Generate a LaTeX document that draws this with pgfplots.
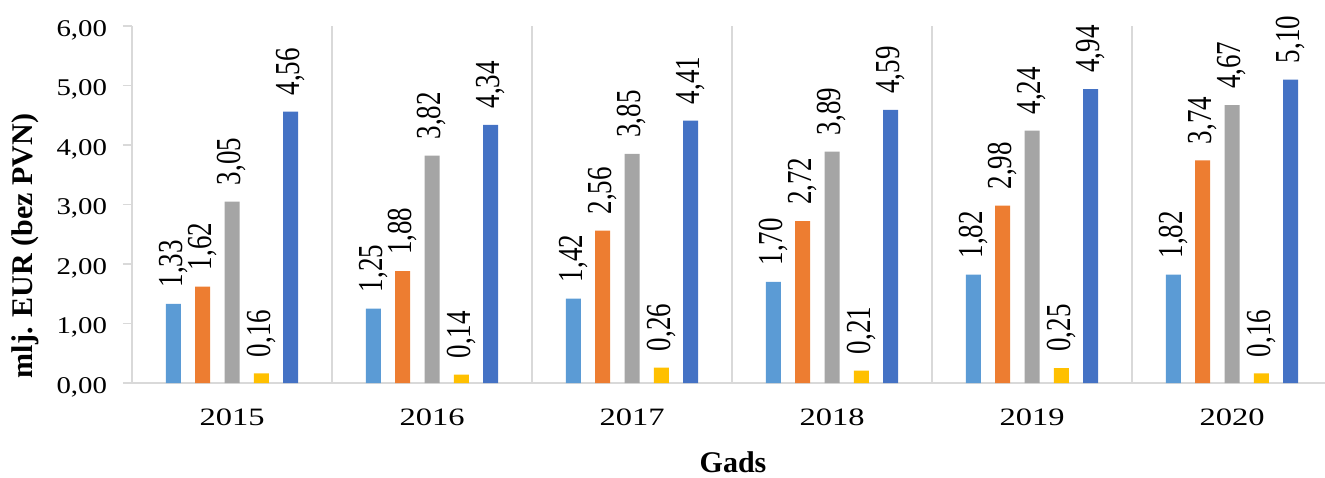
\documentclass[border=0pt]{standalone}
\usepackage{pgfplots}
\pgfplotsset{compat=1.18}
\usepackage{fontspec}
\setmainfont{Liberation Serif}
\usepackage{graphicx}
\definecolor{cA}{HTML}{5B9BD5}
\definecolor{cB}{HTML}{ED7D31}
\definecolor{cC}{HTML}{A5A5A5}
\definecolor{cD}{HTML}{FFC000}
\definecolor{cE}{HTML}{4472C4}
\definecolor{gridgray}{HTML}{D9D9D9}
\begin{document}
\begin{tikzpicture}
\path[use as bounding box] (0,0) rectangle (662.5pt,-238.5pt);
\clip (0,0) rectangle (662.5pt,-238.5pt);
\begin{axis}[
  at={(66pt,-191.5pt)}, anchor=south west,
  width=600pt, height=178.5pt, scale only axis,
  xmin=-0.5, xmax=5.5, ymin=0, ymax=6,
  ybar=7.15pt, bar width=7.5pt,
  axis lines=left,
  axis line style={-, draw=gridgray, line width=0.75pt},
  xtick={0,...,5},
  xticklabels={\scalebox{1.3}[1]{2015},\scalebox{1.3}[1]{2016},\scalebox{1.3}[1]{2017},\scalebox{1.3}[1]{2018},\scalebox{1.3}[1]{2019},\scalebox{1.3}[1]{2020}},
  xticklabel style={anchor=base, yshift=-16.5pt, font=\rmfamily\fontsize{12.5}{14}\selectfont},
  xtick style={draw=none},
  minor xtick={-0.5,0.5,...,5.5},
  xminorgrids=true,
  minor grid style={draw=gridgray, line width=0.75pt},
  ytick={0,1,...,6},
  ytick style={draw=gridgray, line width=0.75pt},
  tick align=outside,
  major tick length=4.5pt,
  yticklabel={\scalebox{1.2}[1]{\pgfmathprintnumber{\tick}}},
  yticklabel style={font=\rmfamily\fontsize{12}{14}\selectfont, xshift=-4.5pt, yshift=-2pt},
  /pgf/number format/fixed,
  /pgf/number format/fixed zerofill,
  /pgf/number format/precision=2,
  /pgf/number format/use comma,
  /pgf/number format/assume math mode=true,
  nodes near coords={\scalebox{1}[1.3]{\pgfmathprintnumber{\pgfplotspointmeta}}},
  every node near coord/.append style={rotate=90, anchor=west, inner xsep=8pt, font=\rmfamily\fontsize{13.5}{15}\selectfont, black},
  clip=false,
]
\addplot[fill=cA, draw=none] coordinates {(0,1.33) (1,1.25) (2,1.42) (3,1.70) (4,1.82) (5,1.82)};
\addplot[fill=cB, draw=none] coordinates {(0,1.62) (1,1.88) (2,2.56) (3,2.72) (4,2.98) (5,3.74)};
\addplot[fill=cC, draw=none] coordinates {(0,3.05) (1,3.82) (2,3.85) (3,3.89) (4,4.24) (5,4.67)};
\addplot[fill=cD, draw=none] coordinates {(0,0.16) (1,0.14) (2,0.26) (3,0.21) (4,0.25) (5,0.16)};
\addplot[fill=cE, draw=none] coordinates {(0,4.56) (1,4.34) (2,4.41) (3,4.59) (4,4.94) (5,5.10)};
\end{axis}
\node[rotate=90, font=\bfseries\fontsize{15}{17}\selectfont] at (12.5pt,-123pt) {mlj. EUR (bez PVN)};
\node[anchor=base, font=\bfseries\fontsize{15}{17}\selectfont] at (366.5pt,-236pt) {Gads};
\end{tikzpicture}
\end{document}
